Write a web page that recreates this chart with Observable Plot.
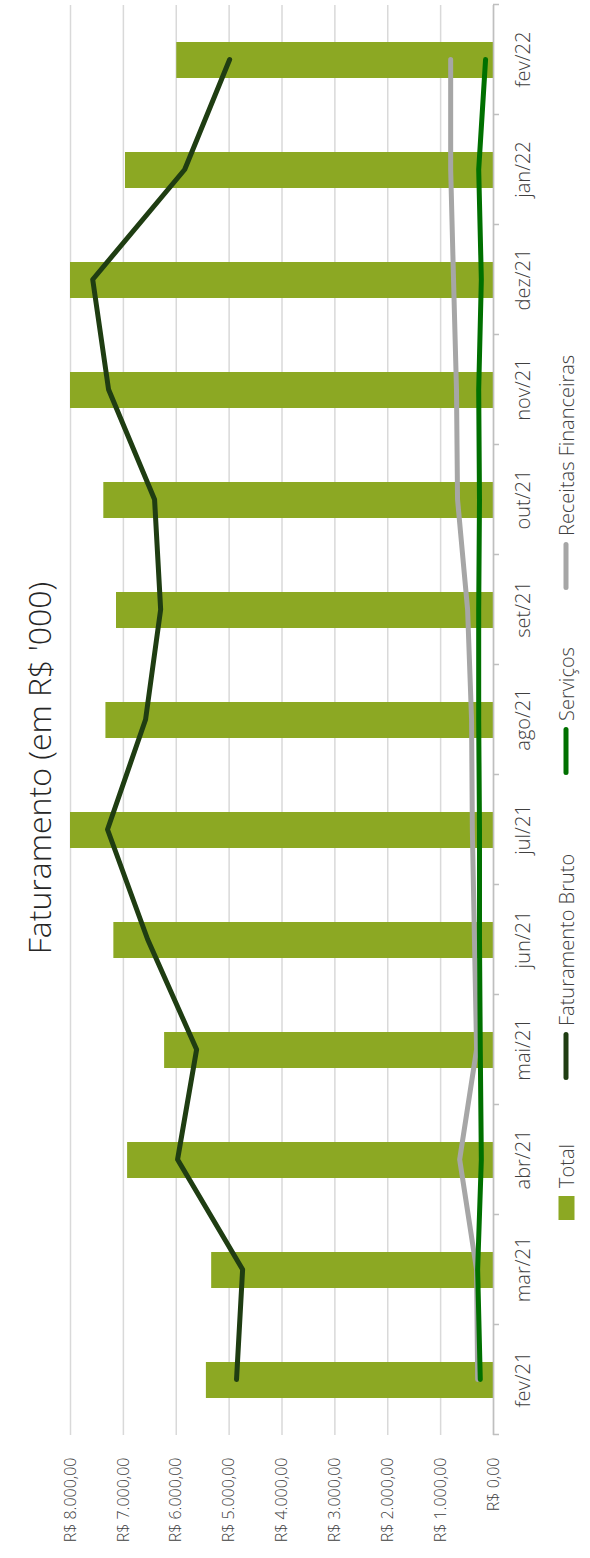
<!DOCTYPE html>
<html><head><meta charset="utf-8">
<script src="https://cdn.jsdelivr.net/npm/d3@7"></script>
<script src="https://cdn.jsdelivr.net/npm/@observablehq/plot@0.6"></script>
<style>
html,body{margin:0;padding:0;background:#fff;overflow:hidden;width:590px;height:1558px}
#wrap{position:absolute;left:0;top:1558px;width:1558px;height:590px;transform-origin:0 0;transform:rotate(-90deg);font-family:"Open Sans",Lato,sans-serif;}
#chart{position:absolute;left:0;top:0}
#title{position:absolute;left:790px;top:38px;transform:translate(-50%,-50%);white-space:nowrap;font-size:32px;font-weight:300;color:#262626}
.leg{position:absolute;top:566px;transform:translateY(-50%);white-space:nowrap;font-size:20px;font-weight:300;color:#404040;display:flex;align-items:center}
.sw-box{display:inline-block;width:24px;height:16px;margin-right:8px}
.sw-line{display:inline-block;width:48px;height:5px;border-radius:3px;margin-right:6px}
</style>
</head><body>
<div id="wrap">
  <div id="chart"></div>
  <div id="title">Faturamento (em R$ '000)</div>
  <div id="legend"></div>
</div>
<script>
const months = ["fev/21","mar/21","abr/21","mai/21","jun/21","jul/21","ago/21","set/21","out/21","nov/21","dez/21","jan/22","fev/22"];
const total = [5430,5330,6920,6220,7180,8000,7330,7130,7370,8000,8000,6960,5990];
const faturamentoBruto = [4860,4745,5975,5615,6540,7300,6580,6295,6410,7280,7580,5840,4990];
const servicos = [250,300,230,250,265,265,280,280,265,280,230,280,150];
const receitasFinanceiras = [300,320,640,320,360,400,415,490,680,700,756,810,810];
const valueTicks = [0,1000,2000,3000,4000,5000,6000,7000,8000];

const seriesNames = ["Total","Faturamento Bruto","Serviços","Receitas Financeiras"];
const colors = {"Total":"#8ca823","Faturamento Bruto":"#1f3d12","Serviços":"#007000","Receitas Financeiras":"#a6a6a6"};

const rows = months.map((m,i)=>({month:m,total:total[i],fb:faturamentoBruto[i],serv:servicos[i],rf:receitasFinanceiras[i]}));

const locale = d3.formatLocale({decimal:",",thousands:".",grouping:[3],currency:["R$ ",""]});
const fmt = locale.format("$,.2f");

const font = '"Open Sans", Lato, sans-serif';
const lineOpts = {strokeWidth:5, strokeLinecap:"round", strokeLinejoin:"round"};

const chart = Plot.plot({
  width:1558, height:590,
  marginLeft:123, marginRight:5, marginTop:70, marginBottom:97,
  x:{type:"band", domain:months, paddingInner:0.67, paddingOuter:0.335, axis:null},
  y:{domain:[0,8000], axis:null},
  style:{fontFamily:font, background:"transparent", fontWeight:300},
  marks:[
    Plot.gridY(valueTicks, {stroke:"#d9d9d9", strokeOpacity:1, strokeWidth:1.5}),
    Plot.barY(rows, {x:"month", y:"total", fill:colors["Total"]}),
    Plot.ruleY([0], {stroke:"#bfbfbf", strokeWidth:1.5}),
    Plot.ruleX(months, {x:d=>d, y1:0, y2:0, insetBottom:-6, dx:-55, stroke:"#bfbfbf", strokeWidth:1.5}),
    Plot.ruleX(months.slice(-1), {x:d=>d, y1:0, y2:0, insetBottom:-6, dx:55, stroke:"#bfbfbf", strokeWidth:1.5}),
    Plot.axisY(valueTicks, {tickSize:0, tickPadding:23, tickFormat:fmt, fontSize:16, fill:"#404040", label:null}),
    Plot.axisX({tickSize:0, tickPadding:22, fontSize:20, fill:"#404040", label:null}),
    Plot.lineY(rows, {x:"month", y:"rf", stroke:colors["Receitas Financeiras"], ...lineOpts}),
    Plot.lineY(rows, {x:"month", y:"serv", stroke:colors["Serviços"], ...lineOpts}),
    Plot.lineY(rows, {x:"month", y:"fb", stroke:colors["Faturamento Bruto"], ...lineOpts})
  ]
});
document.getElementById("chart").appendChild(chart);

const legendPos = {"Total":338,"Faturamento Bruto":478,"Serviços":783,"Receitas Financeiras":968};
const legend = document.getElementById("legend");
for (const name of seriesNames) {
  const item = document.createElement("div");
  item.className = "leg";
  item.style.left = legendPos[name] + "px";
  const sw = document.createElement("span");
  sw.className = name === "Total" ? "sw-box" : "sw-line";
  sw.style.background = colors[name];
  item.appendChild(sw);
  item.appendChild(document.createTextNode(name));
  legend.appendChild(item);
}
</script>
</body></html>
